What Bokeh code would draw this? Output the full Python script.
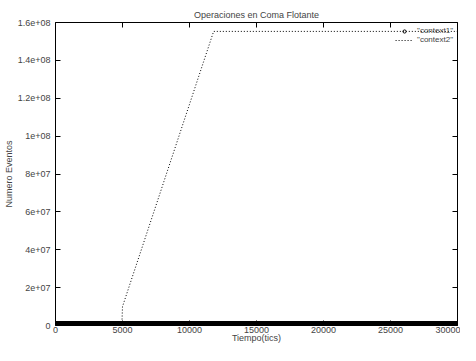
from bokeh.plotting import figure
from bokeh.models import FixedTicker, LinearAxis, Range1d, Legend, LegendItem
from bokeh.embed import file_html
from bokeh.resources import INLINE

# ---- data ----
x_ticks = [0, 5000, 10000, 15000, 20000, 25000, 30000]
y_ticks = [0, 2e7, 4e7, 6e7, 8e7, 1e8, 1.2e8, 1.4e8, 1.6e8]
y_tick_labels = ["0", "2e+07", "4e+07", "6e+07", "8e+07", "1e+08", "1.2e+08", "1.4e+08", "1.6e+08"]

context1_x = [0, 2500, 5000, 7500, 10000, 12500, 15000, 17500, 20000, 22500, 25000, 27500, 30000]
context1_y = [0, 0, 0, 0, 0, 0, 0, 0, 0, 0, 0, 0, 0]

context2_x = [4950, 5000, 11800, 30000]
context2_y = [0, 1.0e7, 1.553e8, 1.553e8]

FONT = "Liberation Sans"
FS = "9px"

p = figure(width=460, height=345, output_backend="svg", toolbar_location=None,
           x_range=Range1d(0, 30000), y_range=Range1d(0, 1.6e8),
           title="Operaciones en Coma Flotante",
           min_border_left=54, min_border_right=3, min_border_top=22, min_border_bottom=20)

p.title.align = "center"
p.title.text_font = FONT
p.title.text_font_size = FS
p.title.text_font_style = "normal"
p.title.standoff = 6

p.grid.visible = False
p.outline_line_color = "black"
p.outline_line_width = 1

def style_axis(ax, show_labels=True):
    ax.major_tick_in = 5
    ax.major_tick_out = 0
    ax.minor_tick_line_color = None
    ax.axis_line_color = None
    ax.major_tick_line_color = "black"
    ax.major_label_text_font = FONT
    if show_labels:
        ax.major_label_text_font_size = FS
        ax.major_label_standoff = 3
    else:
        ax.major_label_text_font_size = "1px"
        ax.major_label_text_color = None
        ax.major_label_standoff = 0
    ax.axis_label_text_font = FONT
    ax.axis_label_text_font_size = FS
    ax.axis_label_text_font_style = "normal"

xb = p.xaxis[0]
xb.ticker = FixedTicker(ticks=x_ticks)
xb.axis_label = "Tiempo(tics)"
style_axis(xb)
xb.major_label_standoff = 1
xb.axis_label_standoff = -3

yl = p.yaxis[0]
yl.ticker = FixedTicker(ticks=y_ticks)
yl.major_label_overrides = {t: s for t, s in zip(y_ticks, y_tick_labels)}
yl.axis_label = "Numero Eventos"
yl.axis_label_standoff = 1
style_axis(yl)
yl.major_label_standoff = 5

xt = LinearAxis(ticker=FixedTicker(ticks=x_ticks))
style_axis(xt, False)
p.add_layout(xt, "above")
yr = LinearAxis(ticker=FixedTicker(ticks=y_ticks))
style_axis(yr, False)
p.add_layout(yr, "right")

# context1: dense points along zero
p.line(context1_x, context1_y, line_color="black", line_width=9)
r1 = p.scatter(context1_x, context1_y, marker="circle", size=5, fill_color=None, line_color="black")

# context2: dotted line
r2 = p.line(context2_x, context2_y, line_color="black", line_width=1, line_dash="1 2")

legend = Legend(items=[LegendItem(label='"context1"', renderers=[r1]),
                       LegendItem(label='"context2"', renderers=[r2])],
                location="top_right", background_fill_alpha=0, border_line_color=None,
                label_text_font=FONT, label_text_font_size="8px",
                glyph_width=18, glyph_height=8, spacing=0, padding=2, margin=4,
                label_height=9, label_standoff=4)
p.add_layout(legend)

open("out.html", "w").write(file_html(p, INLINE))
